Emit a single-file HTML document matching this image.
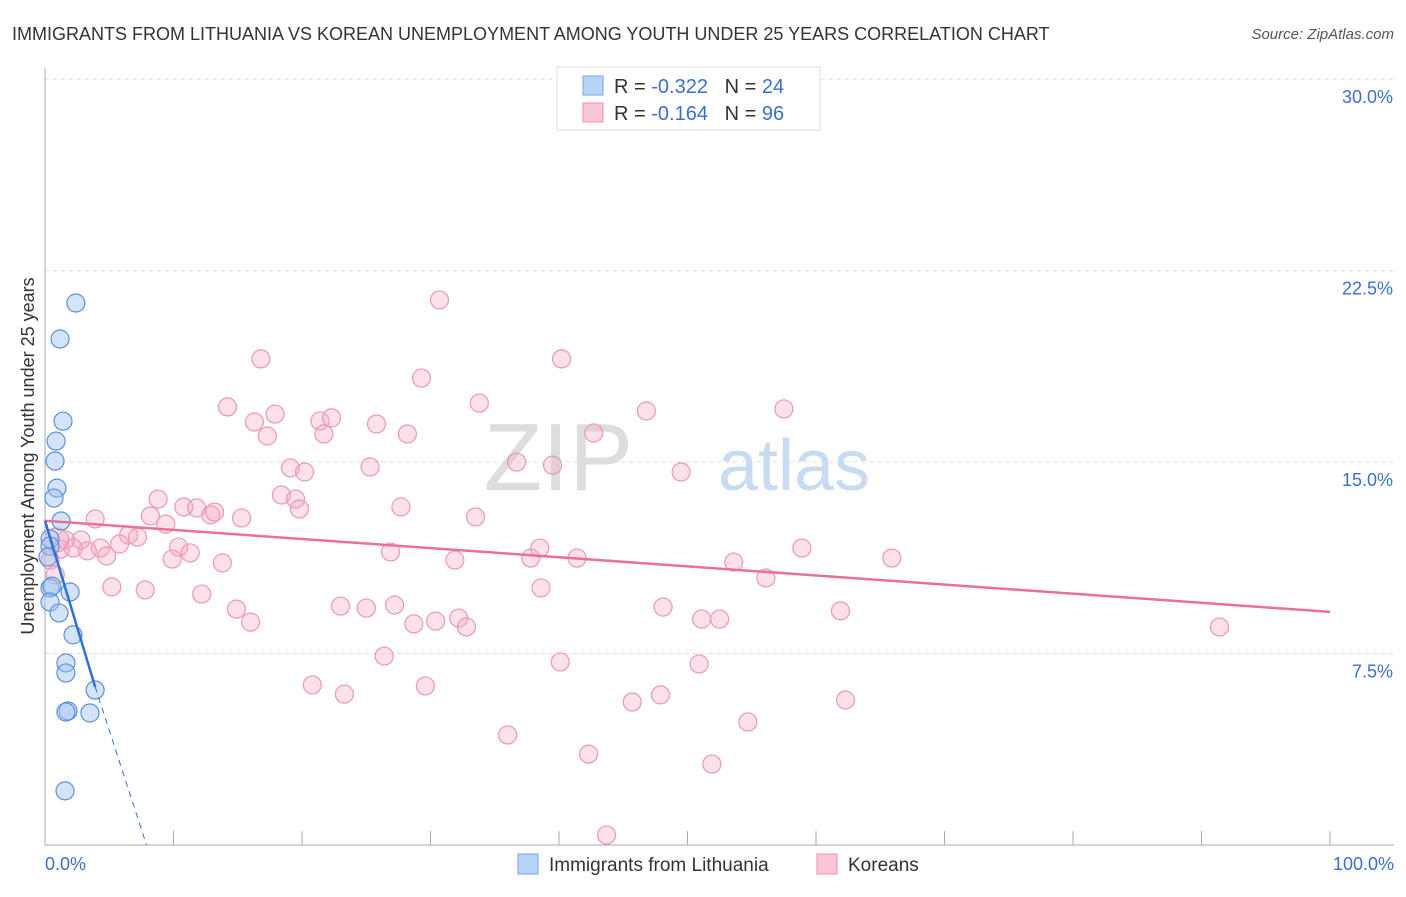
<!DOCTYPE html>
<html><head><meta charset="utf-8"><style>
body{margin:0;background:#fff;font-family:"Liberation Sans",sans-serif;}
svg text{font-family:"Liberation Sans",sans-serif;}
</style></head><body>
<svg width="1406" height="892" xmlns="http://www.w3.org/2000/svg">
<text x="12" y="40" font-size="18" fill="#333">IMMIGRANTS FROM LITHUANIA VS KOREAN UNEMPLOYMENT AMONG YOUTH UNDER 25 YEARS CORRELATION CHART</text>
<text x="1394" y="39" font-size="15" fill="#555" font-style="italic" text-anchor="end">Source: ZipAtlas.com</text>
<text x="633" y="490" font-size="96" fill="#ddd" font-family="Liberation Serif" text-anchor="end">ZIP</text>
<text x="718" y="490" font-size="72" fill="#c9dbf2">atlas</text>
<g id="grid"></g><g id="axes"></g><g id="pts"></g><g id="lines"></g>
<text transform="translate(34,456) rotate(-90)" font-size="18" fill="#333" text-anchor="middle">Unemployment Among Youth under 25 years</text>
<g>
<rect x="557" y="67" width="263" height="63" fill="#fff" stroke="#ddd"/>
<rect x="583" y="76" width="20" height="19" fill="#b8d3f5" stroke="#7aa7e0"/>
<rect x="583" y="103" width="20" height="19" fill="#f9c6d5" stroke="#ec93ad"/>
<text x="614" y="93" font-size="20" fill="#333">R = <tspan fill="#3a6fd0">-0.322</tspan>&#160;&#160;&#160;N = <tspan fill="#3a6fd0">24</tspan></text>
<text x="614" y="120" font-size="20" fill="#333">R = <tspan fill="#3a6fd0">-0.164</tspan>&#160;&#160;&#160;N = <tspan fill="#3a6fd0">96</tspan></text>
</g>
<g>
<rect x="518" y="854" width="20" height="20" fill="#b8d3f5" stroke="#7aa7e0"/>
<text x="549" y="871" font-size="19" fill="#333">Immigrants from Lithuania</text>
<rect x="817" y="854" width="20" height="20" fill="#f9c6d5" stroke="#ec93ad"/>
<text x="848" y="871" font-size="19" fill="#333">Koreans</text>
</g>
</svg>
<script>
const yTicks=[7.5,15,22.5,30];
const yTickLabels=["7.5%","15.0%","22.5%","30.0%"];
const xTickLabels=["0.0%","100.0%"];
const blueX=[2.4,1.17,1.4,0.86,0.78,0.93,0.7,1.25,0.39,0.39,0.23,0.39,0.54,0.39,1.95,1.09,2.18,1.63,1.63,1.79,1.63,3.5,3.9,1.56];
const blueY=[21.23,19.82,16.6,15.82,15.04,13.98,13.59,12.69,11.99,11.71,11.28,10.07,10.14,9.52,9.91,9.09,8.23,7.13,6.74,5.25,5.21,5.17,6.07,2.12];
const pinkX=[58.4,30.7,16.8,40.2,29.3,33.8,14.2,57.5,46.8,17.9,16.3,21.4,25.8,22.3,28.2,17.3,21.7,42.7,36.7,39.5,19.1,25.3,20.2,49.5,8.8,18.4,19.5,10.8,11.8,12.9,13.2,19.8,27.7,33.5,3.9,8.2,9.4,15.3,6.5,7.2,2.8,1.6,1.2,5.8,10.4,11.3,4.3,3.3,2.2,4.8,9.9,13.8,26.9,38.5,31.9,37.8,41.4,58.9,65.9,53.6,56.1,5.2,7.8,12.2,38.6,14.9,23.0,25.0,27.2,48.1,61.9,16.0,28.7,30.4,32.2,32.8,51.1,52.5,91.4,26.4,40.1,50.9,20.8,23.3,29.6,47.9,45.7,62.3,54.7,36.0,42.3,51.9,43.7,0.9,0.4,0.8];
const pinkY=[28.79,21.35,19.04,19.04,18.29,17.31,17.16,17.08,17.0,16.88,16.57,16.61,16.49,16.73,16.1,16.02,16.1,16.14,15.0,14.88,14.77,14.81,14.61,14.61,13.55,13.71,13.55,13.24,13.2,12.93,13.04,13.16,13.24,12.85,12.77,12.89,12.57,12.81,12.14,12.06,11.95,11.95,11.59,11.79,11.67,11.44,11.63,11.52,11.63,11.32,11.2,11.05,11.48,11.63,11.16,11.24,11.24,11.63,11.24,11.08,10.46,10.11,9.99,9.83,10.07,9.24,9.36,9.28,9.4,9.32,9.17,8.73,8.66,8.77,8.89,8.54,8.85,8.85,8.54,7.4,7.17,7.09,6.27,5.91,6.23,5.88,5.6,5.68,4.82,4.31,3.56,3.17,0.39,11.95,11.16,10.58];
const blueTrend=[[0,12.7],[3.9,6.2],[7.9,0]];
const pinkTrend=[[0,12.7],[100,9.13]];
const X=v=>45+v*12.85, Y=v=>845-v*25.53;
const NS="http://www.w3.org/2000/svg";
function mk(t,a,p){const e=document.createElementNS(NS,t);for(const k in a)e.setAttribute(k,a[k]);p.appendChild(e);return e;}
const grid=document.getElementById('grid'),axes=document.getElementById('axes'),pts=document.getElementById('pts'),lines=document.getElementById('lines');
yTicks.forEach((t,i)=>{
 const g=mk('line',{x1:45,x2:1394,y1:Y(t),y2:Y(t),stroke:'#ddd','stroke-dasharray':'4,4'},grid);
 
 
 const l=mk('text',{x:1393,y:Y(t)+24,'font-size':18,fill:'#3a6fd0','text-anchor':'end'},axes);
 l.textContent=yTickLabels[i];
 
 
});
const ax=mk('line',{x1:45,x2:45,y1:68,y2:845,stroke:'#aaa'},axes);


const bx=mk('line',{x1:45,x2:1394,y1:845,y2:845,stroke:'#aaa'},axes);


for(let i=1;i<=10;i++){
 const t=mk('line',{x1:X(i*10),x2:X(i*10),y1:831,y2:845,stroke:'#aaa'},axes);
 
 
}
[[0,'start',45],[100,'end',1394]].forEach((d,i)=>{
 const l=mk('text',{x:d[2],y:870,'font-size':18,fill:'#3a6fd0','text-anchor':d[1]},axes);
 l.textContent=xTickLabels[i];
 
 
});
pinkX.forEach((x,i)=>{
 const c=mk('circle',{cx:X(x),cy:Y(pinkY[i]),r:i==93?12:9,fill:'rgba(246,170,195,0.35)',stroke:'#eb98b3','stroke-width':1.2},pts);
 
 
});
blueX.forEach((x,i)=>{
 const c=mk('circle',{cx:X(x),cy:Y(blueY[i]),r:9,fill:'rgba(160,196,240,0.45)',stroke:'#5b8fdc','stroke-width':1.2},pts);
 
 
});
const pl=mk('line',{x1:X(pinkTrend[0][0]),y1:Y(pinkTrend[0][1]),x2:X(pinkTrend[1][0]),y2:Y(pinkTrend[1][1]),stroke:'#e8719a','stroke-width':2.5},lines);


const bl=mk('line',{x1:X(blueTrend[0][0]),y1:Y(blueTrend[0][1]),x2:X(blueTrend[1][0]),y2:Y(blueTrend[1][1]),stroke:'#2f6fd6','stroke-width':2.5},lines);


const bd=mk('line',{x1:X(blueTrend[1][0]),y1:Y(blueTrend[1][1]),x2:X(blueTrend[2][0]),y2:Y(blueTrend[2][1]),stroke:'#2f6fd6','stroke-width':1,'stroke-dasharray':'6,5'},lines);


</script>
</body></html>
